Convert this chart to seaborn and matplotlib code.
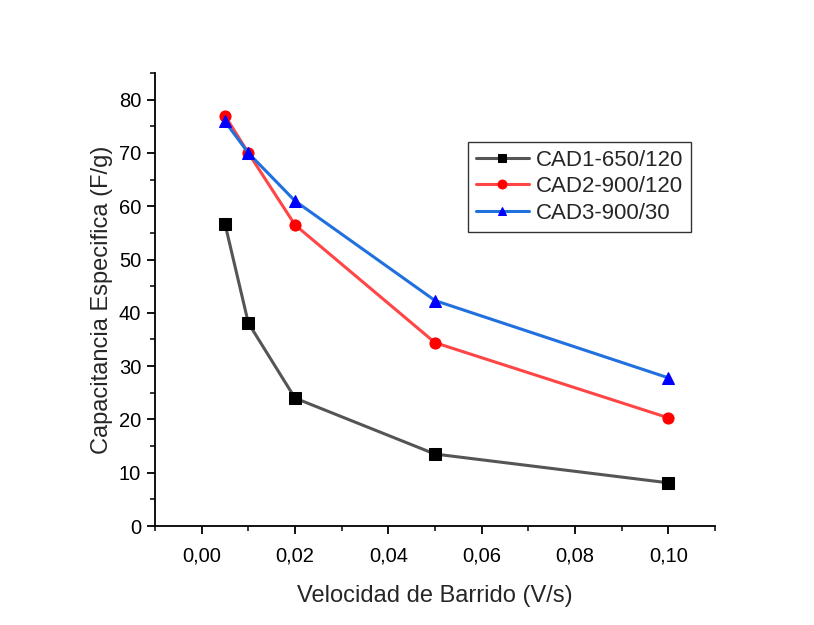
import matplotlib
matplotlib.use("Agg")
import matplotlib.pyplot as plt
import seaborn as sns
import pandas as pd
from matplotlib.ticker import MultipleLocator, FuncFormatter

sns.set_style("ticks")
plt.rcParams['font.family'] = ['Liberation Sans', 'DejaVu Sans']

velocidad = [0.005, 0.01, 0.02, 0.05, 0.10]
cad1 = [56.7, 38.1, 24.0, 13.5, 8.1]
cad2 = [77.0, 70.0, 56.5, 34.4, 20.3]
cad3 = [75.9, 70.0, 61.0, 42.3, 27.8]
series_names = ["CAD1-650/120", "CAD2-900/120", "CAD3-900/30"]

line_colors = ["#555555", "#ff4545", "#2070e0"]
marker_colors = ["#000000", "#ff0000", "#0000ff"]
markers = ["s", "o", "^"]

fig = plt.figure(figsize=(8.14, 6.25), dpi=100)
ax = fig.add_axes([0.1904, 0.1584, 0.688, 0.7248])

for name, vals, lc, mc, mk in zip(series_names, [cad1, cad2, cad3], line_colors, marker_colors, markers):
    df = pd.DataFrame({"x": velocidad, "y": vals})
    sns.lineplot(data=df, x="x", y="y", ax=ax, color=lc, marker=mk, markersize=8,
                 markerfacecolor=mc, markeredgecolor=mc, linewidth=2.2, label=name)

ax.set_xlim(-0.01, 0.11)
ax.set_ylim(0, 85)
ax.xaxis.set_major_locator(MultipleLocator(0.02))
ax.xaxis.set_minor_locator(MultipleLocator(0.01))
ax.yaxis.set_major_locator(MultipleLocator(10))
ax.yaxis.set_minor_locator(MultipleLocator(5))
ax.xaxis.set_major_formatter(FuncFormatter(lambda v, p: f"{v:.2f}".replace(".", ",")))
ax.yaxis.set_major_formatter(FuncFormatter(lambda v, p: f"{v:.0f}"))
ax.tick_params(axis='both', which='major', direction='out', length=6, width=1.3, labelsize=14.5, colors='black')
ax.tick_params(axis='x', which='major', pad=9)
ax.tick_params(axis='y', which='major', pad=4)
ax.tick_params(axis='both', which='minor', direction='out', length=3.5, width=1.3)
for s in ['left', 'bottom']:
    ax.spines[s].set_linewidth(1.3)
    ax.spines[s].set_color('black')
sns.despine(ax=ax)

ax.set_xlabel("Velocidad de Barrido (V/s)", fontsize=17, labelpad=14)
ax.set_ylabel("Capacitancia Especifica (F/g)", fontsize=17, labelpad=4)

leg = ax.legend(loc='upper left', bbox_to_anchor=(0.559, 0.848), fontsize=16, frameon=True,
                fancybox=False, edgecolor='black', handlelength=2.4, borderpad=0.35,
                labelspacing=0.25, handletextpad=0.3, borderaxespad=0, markerscale=0.8)
leg.get_frame().set_linewidth(1.0)

fig.savefig("out.png", dpi=100)
